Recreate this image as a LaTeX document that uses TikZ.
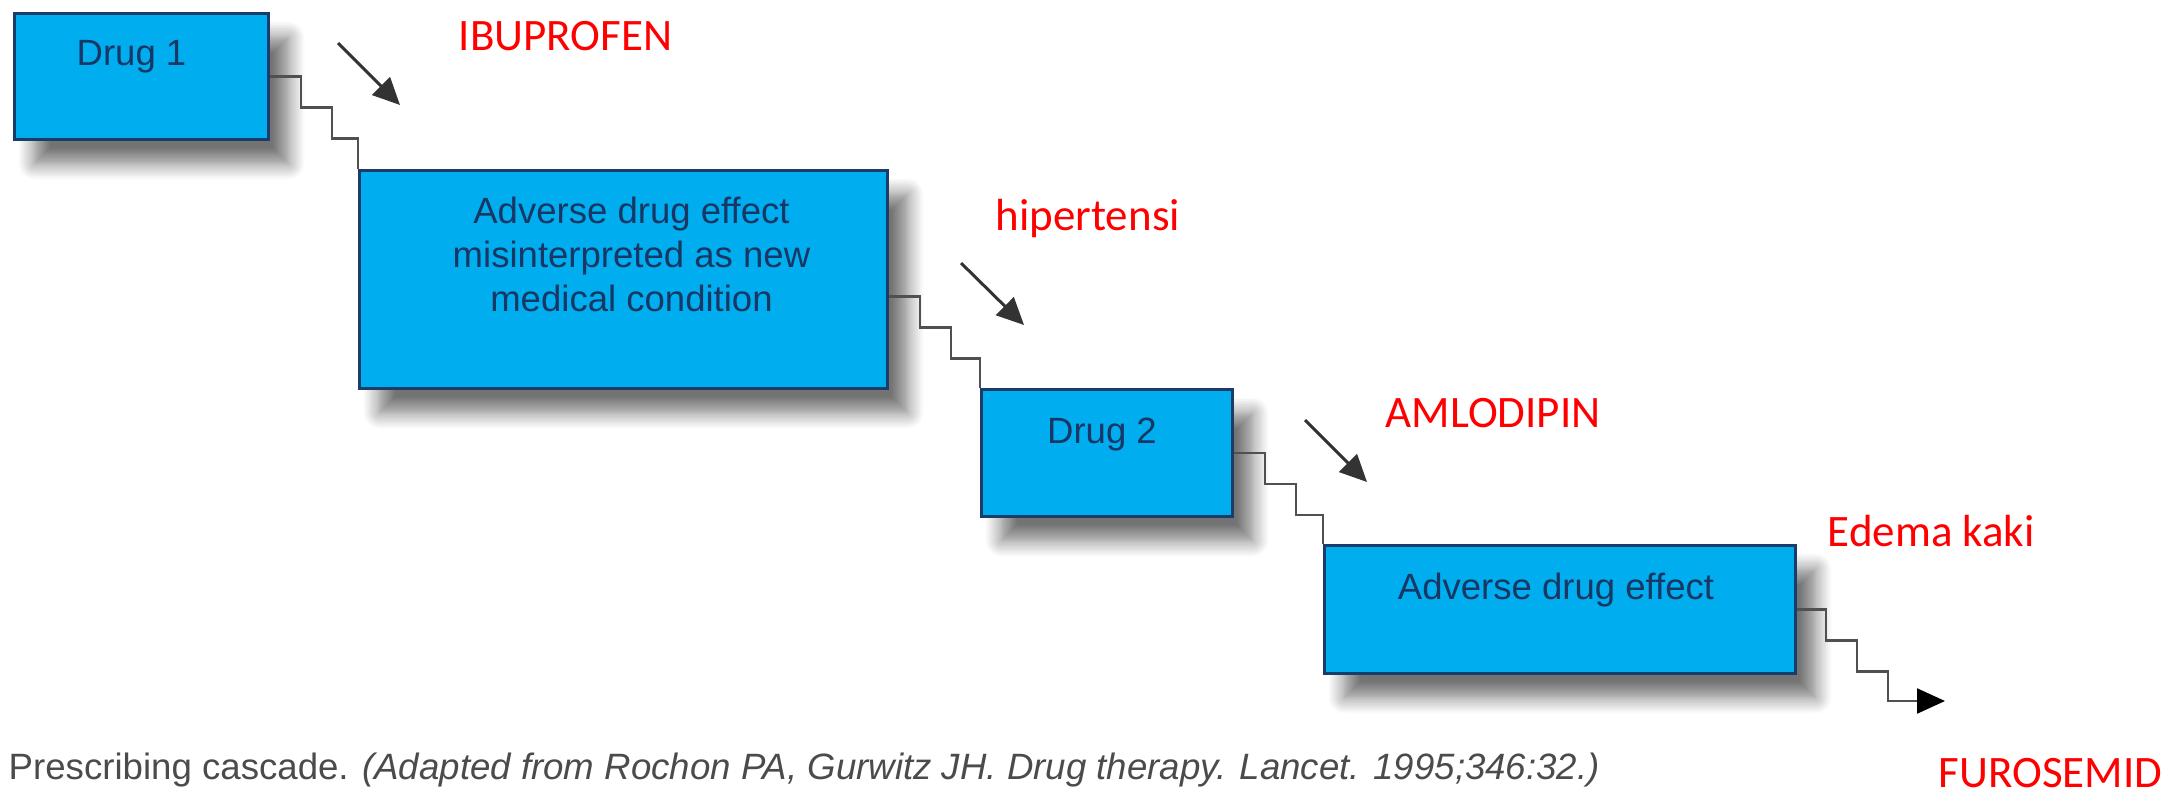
\documentclass[tikz,border=0pt]{standalone}
\usepackage{graphicx}
\usepackage{fontspec}
\setmainfont{Liberation Sans}
\newfontfamily\tagfont{Carlito}
\usetikzlibrary{positioning,arrows.meta,shadows.blur}

\definecolor{boxblue}{RGB}{0,174,239}
\definecolor{boxline}{RGB}{25,60,105}
\definecolor{boxink}{RGB}{25,55,100}
\definecolor{stairgray}{RGB}{80,80,80}
\definecolor{capgray}{RGB}{75,75,75}

\begin{document}
\begin{tikzpicture}[
        box/.style={draw=boxline, line width=0.3mm, fill=boxblue, anchor=north west, inner sep=0pt,
            blur shadow={shadow xshift=0.2cm, shadow yshift=-0.24cm, shadow blur radius=0.16cm,
                shadow blur steps=10, shadow opacity=55}},
        boxtxt/.style={text=boxink, font=\fontsize{10.4pt}{12.6pt}\selectfont, align=center, inner sep=0pt},
        tag/.style={text=red, font=\tagfont\fontsize{12.8pt}{15pt}\selectfont, inner sep=0pt, anchor=base west},
        stair/.style={draw=stairgray, line width=0.22mm},
        dir/.style={draw=black!80, line width=0.3mm, -{Triangle[length=2.7mm,width=2.5mm]}}
    ]
    \useasboundingbox (0,0) rectangle (21.77,-7.94);

    % the cascade boxes
    \node[box, minimum width=2.54cm, minimum height=1.26cm] (d1) at (0.13,-0.12) {};
    \node[box, minimum width=5.28cm, minimum height=2.18cm] (ade) at (3.58,-1.69) {};
    \node[box, minimum width=2.51cm, minimum height=1.27cm] (d2) at (9.80,-3.88) {};
    \node[box, minimum width=4.71cm, minimum height=1.28cm] (ade2) at (13.23,-5.44) {};

    \node[boxtxt, below=0.28cm of d1.north, xshift=-0.1cm] (t1) {Drug 1};
    \node[boxtxt, below=0.27cm of ade.north, xshift=0.08cm] (t2)
        {Adverse drug effect\\misinterpreted as new\\medical condition};
    \node[boxtxt, below=0.29cm of d2.north, xshift=-0.05cm] (t3) {Drug 2};
    \node[boxtxt, below=0.28cm of ade2.north, xshift=-0.04cm] (t4) {Adverse drug effect};

    % stairs between the boxes
    \draw[stair]
        (d1.east) -- ++(0.31,0) -- ++(0,-0.31) -- ++(0.31,0) -- ++(0,-0.31) -| (ade.north west);
    \draw[stair]
        ([yshift=-0.17cm]ade.east) -- ++(0.31,0) -- ++(0,-0.31) -- ++(0.31,0) -- ++(0,-0.31)
        -| (d2.north west);
    \draw[stair]
        (d2.east) -- ++(0.31,0) -- ++(0,-0.31) -- ++(0.31,0) -- ++(0,-0.31) -| (ade2.north west);
    \coordinate (ext) at (19.45,-7.01);
    \draw[stair, -{Triangle[length=2.8mm,width=2.5mm]}, arrows={[color=black]}]
        (ade2.east) -- ++(0.29,0) -- ++(0,-0.31) -- ++(0.31,0) -- ++(0,-0.31)
        -- ++(0.31,0) |- (ext);

    % diagonal arrows
    \coordinate (s1) at (3.38,-0.43);
    \coordinate (e1) at (4.00,-1.05);
    \coordinate (s2) at (9.61,-2.63);
    \coordinate (e2) at (10.24,-3.25);
    \coordinate (s3) at (13.05,-4.20);
    \coordinate (e3) at (13.67,-4.82);
    \draw[dir] (s1) -- (e1);
    \draw[dir] (s2) -- (e2);
    \draw[dir] (s3) -- (e3);

    % red notes
    \node[tag] (ibu) at (4.58,-0.51) {IBUPROFEN};
    \node[tag] (hip) at (9.95,-2.30) {hipertensi};
    \node[tag] (aml) at (13.85,-4.27) {AMLODIPIN};
    \node[tag] (ede) at (18.27,-5.46) {Edema kaki};
    \node[tag] (fur) at (19.38,-7.87) {FUROSEMID};

    % caption
    \node[anchor=base west, inner sep=0pt, text=capgray] (cap) at (0.08,-7.79)
        {\resizebox{15.91cm}{!}{Prescribing cascade. \textit{(Adapted from Rochon PA, Gurwitz JH. Drug therapy. Lancet. 1995;346:32.)}}};
\end{tikzpicture}
\end{document}
